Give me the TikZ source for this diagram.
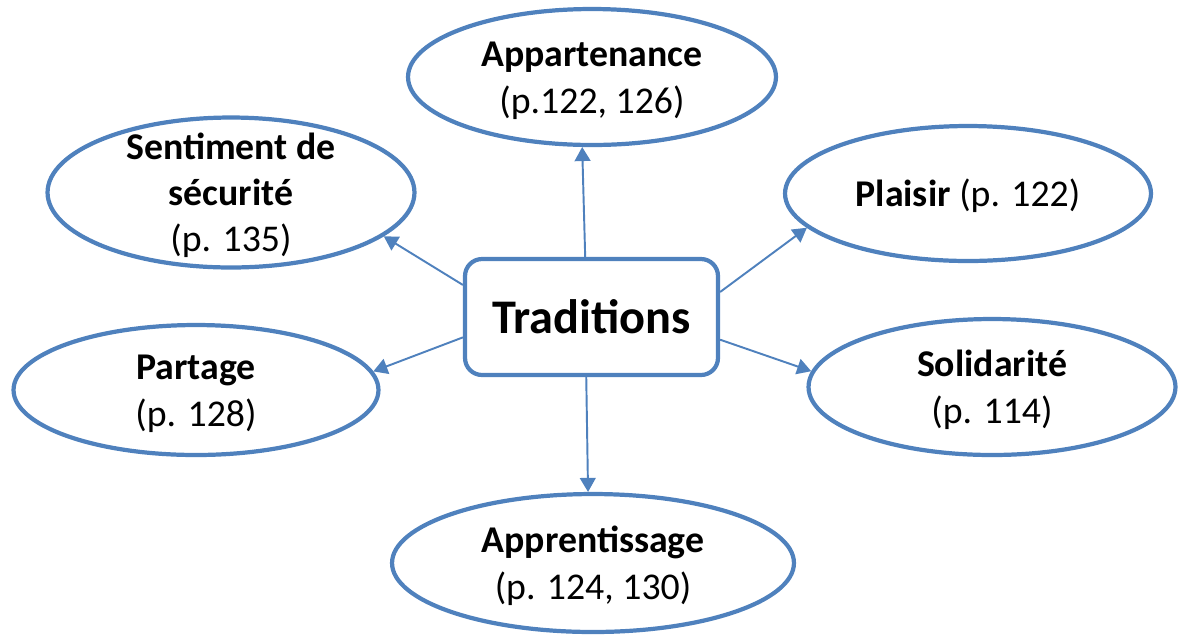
\documentclass[tikz,border=0pt]{standalone}
\usepackage{fontspec}
\setmainfont{Carlito}
\usetikzlibrary{shapes.geometric,arrows.meta}
\definecolor{tradblue}{RGB}{79,129,189}
\newcommand\lstrut{\rule[-0.2cm]{0pt}{0.92cm}}
\begin{document}
\begin{tikzpicture}[x=0.02cm,y=-0.02cm,
    theme/.style={ellipse,draw=tradblue,line width=2.4pt,inner xsep=0pt,inner ysep=-12pt,
      align=center,font=\fontsize{21.5}{26.2}\selectfont},
    centre/.style={rectangle,rounded corners=0.34cm,draw=tradblue,line width=2.4pt,
      minimum width=5.06cm,minimum height=2.32cm,font=\fontsize{27.5}{32}\selectfont\bfseries},
    link/.style={draw=tradblue,line width=1.1pt,-{Triangle[length=8pt,width=9pt]}}]
  \useasboundingbox (0,0) rectangle (1182,637);
  \node[centre] (trad) at (591.5,317) {Traditions};
  \node[theme,minimum width=7.36cm,minimum height=2.72cm] (app) at (592,77)
    {\lstrut\textbf{Appartenance}\\\lstrut(p.122, 126)};
  \node[theme,minimum width=7.34cm,minimum height=3cm] (sent) at (231,192.5)
    {\lstrut\textbf{Sentiment de}\\\lstrut\textbf{sécurité}\\\lstrut(p. 135)};
  \node[theme,minimum width=7.32cm,minimum height=2.7cm] (plai) at (968,193.5)
    {\lstrut\textbf{Plaisir} (p. 122)};
  \node[theme,minimum width=7.3cm,minimum height=2.6cm] (part) at (196,390)
    {\lstrut\textbf{Partage}\\\lstrut(p. 128)};
  \node[theme,minimum width=7.34cm,minimum height=2.72cm] (soli) at (992,387)
    {\lstrut\textbf{Solidarité}\\\lstrut(p. 114)};
  \node[theme,minimum width=8.04cm,minimum height=2.76cm] (appr) at (593,563)
    {\lstrut\textbf{Apprentissage}\\\lstrut(p. 124, 130)};
  \draw[link] (trad.96) -- (app.262);
  \draw[link] (trad.166) -- (sent.344);
  \draw[link] (trad.11) -- (plai.192);
  \draw[link] (trad.189) -- (part.6);
  \draw[link] (trad.350) -- (soli.175);
  \draw[link] (trad.265) -- (appr.94);
\end{tikzpicture}
\end{document}
